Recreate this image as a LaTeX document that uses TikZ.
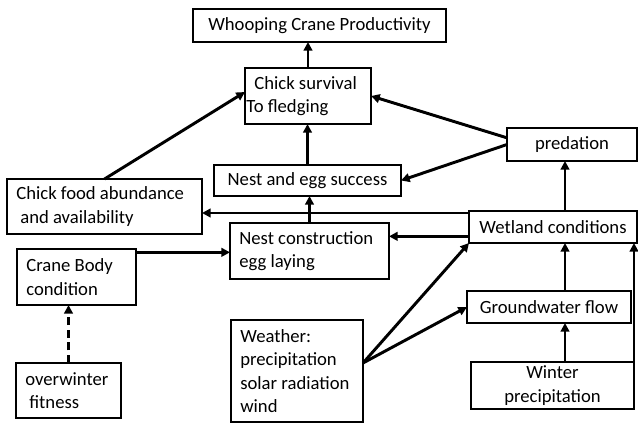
\documentclass[tikz,border=0pt]{standalone}
\usepackage{fontspec}
\setmainfont{Carlito}
\usetikzlibrary{arrows.meta,calc}

\begin{document}
\begin{tikzpicture}[x=0.75pt, y=-0.75pt,
  font=\fontsize{14}{17.5}\selectfont,
  box/.style={draw, line width=0.8pt, inner sep=0pt, outer sep=0pt, anchor=north west, align=center},
  lbox/.style={box, align=flush left, inner xsep=7pt},
  arr/.style={-{Triangle[length=6.5pt, width=6.5pt]}, line width=2.2pt},
  darr/.style={arr, dash pattern=on 6pt off 3.5pt}]
\useasboundingbox (0,0) rectangle (638,425);
% outcome chain
\node[box, minimum width=189.75pt, minimum height=24.75pt] (prod) at (193,9) {Whooping Crane Productivity};
\node[lbox, text width=80.5pt, minimum height=42pt] (chick) at (245,68) {Chick survival\\\hspace*{-6pt}To fledging};
\node[box, minimum width=140.25pt, minimum height=23.25pt] (nest) at (214,165) {Nest and egg success};
\node[lbox, text width=132.25pt, minimum height=41.25pt] (food) at (7,179) {Chick food abundance\\\hspace*{3pt}and availability};
\node[lbox, text width=105.25pt, minimum height=42pt] (build) at (230,223) {Nest construction\\egg laying};
% crane side
\node[lbox, text width=75.25pt, minimum height=42pt] (body) at (17,249) {Crane Body\\condition};
\node[lbox, text width=64.75pt, minimum height=41.25pt] (fit) at (16,363) {overwinter\\\hspace*{3pt}fitness};
% environment side
\node[lbox, text width=85pt, minimum height=76.5pt] (weather) at (231,320) {Weather:\\precipitation\\solar radiation\\wind};
\node[box, minimum width=126pt, minimum height=24pt] (wet) at (469,211) {Wetland conditions};
\node[box, minimum width=123pt, minimum height=24pt] (ground) at (467,291) {Groundwater flow};
\node[box, minimum width=122.25pt, minimum height=35.25pt] (winter) at (471,362) {Winter\\precipitation};
\node[box, minimum width=97.5pt, minimum height=24.75pt] (pred) at (507,128) {predation};
% helper points
\coordinate (col) at ([xshift=-5.25pt]pred.south);
\coordinate (wf) at ([yshift=-1.5pt]wet.north west);
\coordinate (wb) at ([yshift=5pt]wet.south west);
\coordinate (bb) at ([yshift=-2.5pt]body.north east);
\coordinate (wx) at ([yshift=6pt]weather.east);
% links
\draw[arr] (chick.north) -- (chick.north |- prod.south);
\draw[arr] (nest.north) -- (nest.north |- chick.south);
\draw[arr] (build.north) -- (build.north |- nest.south);
\draw[arr] (food.north) -- ([yshift=3pt]chick.west);
\draw[arr] ([yshift=5pt]pred.west) -- (chick.east);
\draw[arr] (pred.west) -- (nest.east);
\draw[arr] (col |- wet.north) -- (col);
\draw[arr] (wf) -- (wf -| food.east);
\draw[arr] (wb) -- (wb -| build.east);
\draw[arr] (bb) -- (bb -| build.west);
\draw[darr] (fit.north) -- (fit.north |- body.south);
\draw[arr] (wx) -- (wet.south west);
\draw[arr] (wx) -- (ground.west);
\draw[arr] (col |- ground.north) -- (col |- wet.south);
\draw[arr] (col |- winter.north) -- (col |- ground.south);
\draw[arr] (winter.north east) -- (winter.north east |- wet.south);
\end{tikzpicture}
\end{document}
